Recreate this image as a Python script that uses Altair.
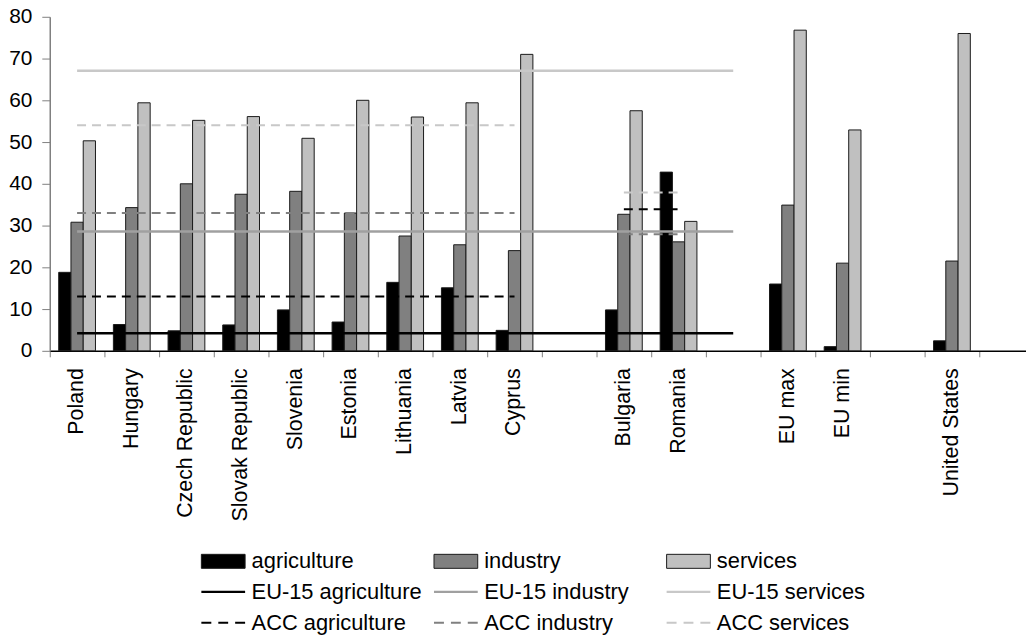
import altair as alt
import pandas as pd

FONT = "Liberation Sans"

# ---- data ----
categories = ["Poland", "Hungary", "Czech Republic", "Slovak Republic", "Slovenia",
              "Estonia", "Lithuania", "Latvia", "Cyprus", "gap1", "Bulgaria", "Romania",
              "gap2", "EU max", "EU min", "gap3", "United States", "gap4"]
countries = ["Poland", "Hungary", "Czech Republic", "Slovak Republic", "Slovenia",
             "Estonia", "Lithuania", "Latvia", "Cyprus", "Bulgaria", "Romania",
             "EU max", "EU min", "United States"]
sectors = ["agriculture", "industry", "services"]
agriculture = [18.8, 6.3, 4.8, 6.2, 9.8, 6.9, 16.4, 15.1, 4.9, 9.8, 42.8, 16.0, 1.0, 2.4]
industry = [30.8, 34.3, 40.0, 37.5, 38.2, 33.0, 27.5, 25.4, 24.0, 32.7, 26.1, 34.9, 21.0, 21.5]
services = [50.3, 59.4, 55.2, 56.1, 50.9, 60.0, 56.0, 59.4, 71.0, 57.5, 31.0, 76.8, 52.9, 76.0]

eu15_series = ["EU-15 agriculture", "EU-15 industry", "EU-15 services"]
eu15_values = [4.2, 28.6, 67.1]
eu15_span = categories[0:13]

acc_series = ["ACC agriculture", "ACC industry", "ACC services"]
acc_values_1 = [13.0, 33.0, 54.0]
acc_span_1 = categories[0:9]
acc_values_2 = [33.9, 27.9, 37.9]
acc_span_2 = ["Bulgaria", "Romania"]

line_series = eu15_series + acc_series
line_colors = ["#000000", "#a0a0a0", "#c8c8c8", "#000000", "#808080", "#c8c8c8"]

legend_entries = sectors + line_series
bar_colors = ["#000000", "#808080", "#c0c0c0"]
fill_colors = bar_colors + line_colors
outline_colors = ["#1a1a1a", "#1a1a1a", "#1a1a1a",
                  "transparent", "transparent", "transparent",
                  "transparent", "transparent", "transparent"]
# legend swatch paths (unit = half of sqrt(symbolSize))
RECT = "M-1,-0.64H3V0.64H-1Z"
LINE = "M-1,-0.11H3V0.11H-1Z"
DASH = ("M-1,-0.1H-0.09V0.1H-1Z M0.55,-0.1H1.45V0.1H0.55Z "
        "M2.09,-0.1H3V0.1H2.09Z")
shapes = [RECT] * 3 + [LINE] * 3 + [DASH] * 3

# ---- tables ----
bar_rows = []
for i, c in enumerate(countries):
    for s, vals in zip(sectors, [agriculture, industry, services]):
        bar_rows.append({"cat": c, "sector": s, "value": vals[i]})
bar_df = pd.DataFrame(bar_rows)

eu_rows = []
for s, v in zip(eu15_series, eu15_values):
    for c in eu15_span:
        eu_rows.append({"cat": c, "series": s, "value": v, "order": categories.index(c)})
eu_df = pd.DataFrame(eu_rows)

acc_rows = []
for seg, (span, vals) in enumerate([(acc_span_1, acc_values_1), (acc_span_2, acc_values_2)]):
    for s, v in zip(acc_series, vals):
        for c in span:
            acc_rows.append({"cat": c, "series": s, "seg": seg, "value": v,
                             "order": categories.index(c)})
acc_df = pd.DataFrame(acc_rows)

leg_df = pd.DataFrame({"entry": legend_entries})

# ---- scales / axes ----
xscale = alt.Scale(domain=categories, paddingInner=0, paddingOuter=0, range=[0, 990])
yscale = alt.Scale(domain=[0, 80], nice=False)
xaxis = alt.Axis(title=None, bandPosition=0, tickSize=6,
                 tickColor="#808080", tickWidth=1, domainColor="#000000", domainWidth=1.5,
                 labelAngle=270, labelAlign="right", labelBaseline="middle",
                 labelPadding=11, labelFontSize=21.5, labelFont=FONT, labelColor="#000000",
                 labelLimit=400, grid=False,
                 labelExpr="indexof(datum.label, 'gap') == 0 ? '' : datum.label")
yaxis = alt.Axis(title=None, values=list(range(0, 81, 10)), tickSize=8,
                 tickColor="#808080", domainColor="#808080", domainWidth=1.5,
                 labelPadding=10, labelFontSize=21, labelFont=FONT, labelColor="#000000",
                 grid=False)

fill_scale = alt.Scale(domain=legend_entries, range=fill_colors)
line_scale = alt.Scale(domain=line_series, range=line_colors)

X = alt.X("cat:N", scale=xscale, axis=xaxis)
Y = alt.Y("value:Q", scale=yscale, axis=yaxis)

leg = alt.Legend(title=None, orient="none", legendX=152, legendY=536, columns=3,
                 direction="horizontal", gridAlign="all", symbolSize=484,
                 symbolStrokeWidth=1, labelFontSize=22, labelFont=FONT,
                 labelColor="#000000", labelOffset=28, labelLimit=400, columnPadding=9,
                 rowPadding=8, padding=0, symbolFillColor="transparent",
                 symbolStrokeColor="#000000", symbolOpacity=1)

phantom = alt.Chart(leg_df).mark_point(filled=True, opacity=1).encode(
    fill=alt.Fill("entry:N", scale=fill_scale, legend=leg),
    stroke=alt.Stroke("entry:N", scale=alt.Scale(domain=legend_entries, range=outline_colors), legend=leg),
    shape=alt.Shape("entry:N", scale=alt.Scale(domain=legend_entries, range=shapes), legend=leg),
).transform_filter("false")

bars = alt.Chart(bar_df).mark_bar(stroke="#1a1a1a", strokeWidth=1).encode(
    x=X,
    xOffset=alt.XOffset("sector:N", scale=alt.Scale(domain=sectors, paddingInner=0, paddingOuter=0.73)),
    y=Y,
    fill=alt.Fill("sector:N", scale=fill_scale, legend=None),
)

eu_lines = alt.Chart(eu_df).mark_line(strokeWidth=2.5).encode(
    x=X, y=Y,
    color=alt.Color("series:N", scale=line_scale, legend=None),
    order="order:Q",
)

acc_lines = alt.Chart(acc_df).mark_line(strokeWidth=2, strokeDash=[9, 6]).encode(
    x=X, y=Y,
    color=alt.Color("series:N", scale=line_scale, legend=None),
    detail="seg:N",
    order="order:Q",
)

chart = alt.layer(phantom, bars, eu_lines, acc_lines).properties(
    width=982, height=336,
    padding={"left": 42, "top": 7, "right": 0, "bottom": 284},
    autosize=alt.AutoSizeParams(type="none"),
).configure_view(stroke=None)

chart.save("out.html", embed_options={"renderer": "svg", "actions": False})
